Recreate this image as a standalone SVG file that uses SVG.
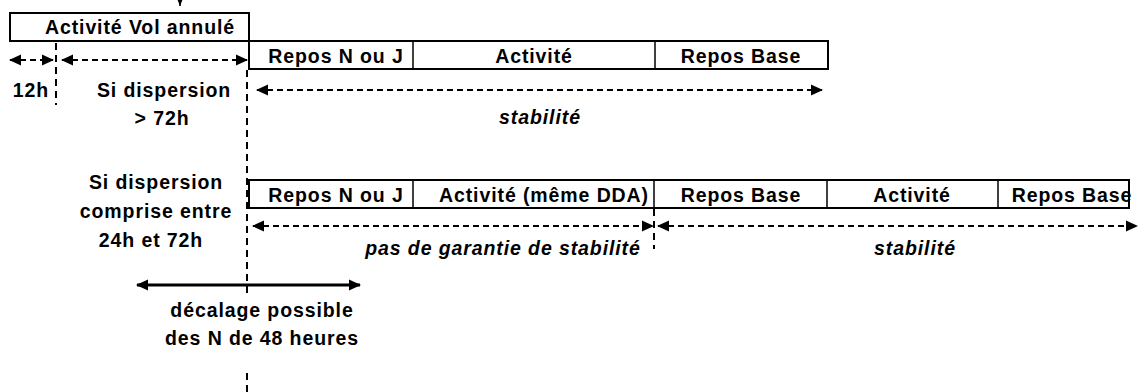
<svg xmlns="http://www.w3.org/2000/svg" width="1139" height="392" viewBox="0 0 1139 392">
<style>
.box{fill:#fff;stroke:#000;stroke-width:2}
.div{stroke:#000;stroke-width:1.5}
.t{font-family:"Liberation Sans",Arial,sans-serif;font-size:19.5px;letter-spacing:0.9px;font-weight:bold;fill:#000;text-anchor:middle}
.i{font-style:italic}
.dash{stroke:#000;stroke-width:2;stroke-dasharray:6,4;fill:none}
.vd{stroke:#000;stroke-width:2;stroke-dasharray:7,5;fill:none}
.solid{stroke:#000;stroke-width:3;fill:none}
</style>
<defs>
<marker id="ah" markerUnits="userSpaceOnUse" markerWidth="12" markerHeight="12" refX="11" refY="6" orient="auto-start-reverse" viewBox="0 0 12 12">
<path d="M0,0.5 L12,6 L0,11.5 z" fill="#000"/>
</marker>
<marker id="ahs" markerUnits="userSpaceOnUse" markerWidth="10" markerHeight="8" refX="10" refY="4" orient="auto" viewBox="0 0 10 8">
<path d="M0,0 L10,4 L0,8 z" fill="#000"/>
</marker>
</defs>
<rect width="1139" height="392" fill="#fff"/>
<g id="connectors">
<line x1="180" y1="-10" x2="180" y2="6" stroke="#000" stroke-width="1.5" marker-end="url(#ahs)"/>
<line class="vd" x1="56" y1="43" x2="56" y2="105"/>
<line class="vd" x1="247" y1="70" x2="247" y2="294"/>
<line class="vd" x1="247" y1="373" x2="247" y2="392"/>
<line class="vd" x1="654" y1="209" x2="654" y2="249"/>
<line class="dash" x1="10" y1="60" x2="53" y2="60" marker-start="url(#ah)" marker-end="url(#ah)"/>
<line class="dash" x1="62" y1="60" x2="247" y2="60" marker-start="url(#ah)" marker-end="url(#ah)"/>
<line class="dash" x1="257" y1="90" x2="822" y2="90" marker-start="url(#ah)" marker-end="url(#ah)"/>
<line class="dash" x1="253" y1="226" x2="653" y2="226" marker-start="url(#ah)" marker-end="url(#ah)"/>
<line class="dash" x1="658" y1="226" x2="1137" y2="226" marker-start="url(#ah)" marker-end="url(#ah)"/>
<line class="solid" x1="137" y1="285" x2="360" y2="285" marker-start="url(#ah)" marker-end="url(#ah)"/>
</g>
<g id="vol-annule">
<rect class="box" x="10" y="13" width="239" height="28"/>
<text class="t" x="140" y="34">Activité Vol annulé</text>
</g>
<g id="row1">
<rect class="box" x="249" y="41" width="579" height="28"/>
<line class="div" x1="413" y1="41" x2="413" y2="69"/>
<line class="div" x1="655" y1="41" x2="655" y2="69"/>
<text class="t" x="336" y="63">Repos N ou J</text>
<text class="t" x="534" y="63">Activité</text>
<text class="t" x="741" y="63">Repos Base</text>
</g>
<g id="row2">
<rect class="box" x="249" y="180" width="880" height="28"/>
<line class="div" x1="413" y1="180" x2="413" y2="208"/>
<line class="div" x1="654" y1="180" x2="654" y2="208"/>
<line class="div" x1="827" y1="180" x2="827" y2="208"/>
<line class="div" x1="998" y1="180" x2="998" y2="208"/>
<text class="t" x="336" y="202">Repos N ou J</text>
<text class="t" x="544" y="202">Activité (même DDA)</text>
<text class="t" x="741" y="202">Repos Base</text>
<text class="t" x="912" y="202">Activité</text>
<text class="t" x="1072" y="202">Repos Base</text>
</g>
<g id="labels">
<text class="t" x="31" y="97">12h</text>
<text class="t" x="164" y="97">Si dispersion</text>
<text class="t" x="162" y="125">&gt; 72h</text>
<text class="t i" x="540" y="124">stabilité</text>
<text class="t" x="156" y="189">Si dispersion</text>
<text class="t" x="156" y="218">comprise entre</text>
<text class="t" x="151" y="247">24h et 72h</text>
<text class="t i" x="503" y="255">pas de garantie de stabilité</text>
<text class="t i" x="915" y="255">stabilité</text>
<text class="t" x="262" y="317">décalage possible</text>
<text class="t" x="262" y="345">des N de 48 heures</text>
</g>
</svg>
